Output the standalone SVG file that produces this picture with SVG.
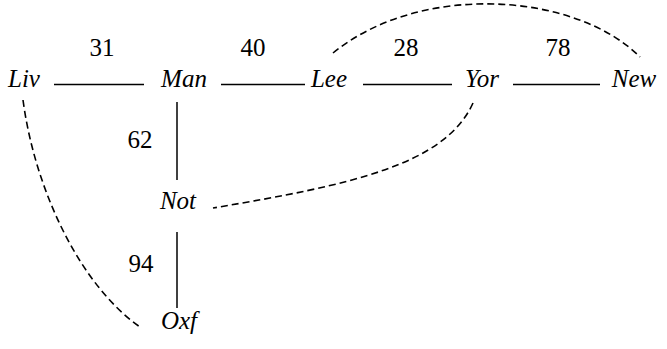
<svg xmlns="http://www.w3.org/2000/svg" width="667" height="349" viewBox="0 0 667 349">
<style>
text{font-family:'Liberation Serif','Times New Roman',serif;font-size:25px;fill:#000;text-anchor:middle}
.n{font-style:italic}
.e{stroke:#000;stroke-width:1.5;fill:none}
.d{stroke:#000;stroke-width:1.6;fill:none;stroke-dasharray:7 4}
</style>
<rect width="667" height="349" fill="#fff"/>
<g id="connectors">
<line class="e" x1="54" y1="84.5" x2="144" y2="84.5"/>
<line class="e" x1="221" y1="84.5" x2="305" y2="84.5"/>
<line class="e" x1="363" y1="84.5" x2="452" y2="84.5"/>
<line class="e" x1="513" y1="84.5" x2="600" y2="84.5"/>
<line class="e" x1="177" y1="102" x2="177" y2="180"/>
<line class="e" x1="177" y1="232" x2="177" y2="308"/>
<path class="d" d="M333 53 C420 -18 575 -8 640 57"/>
<path class="d" d="M473 103 C445 165 350 185 213 208"/>
<path class="d" d="M23 100 C35 190 80 285 140 327"/>
<text x="102" y="56">31</text>
<text x="253" y="56">40</text>
<text x="406" y="56">28</text>
<text x="558" y="56">78</text>
<text x="140" y="148">62</text>
<text x="141" y="272">94</text>
</g>
<g id="Liv"><text class="n" x="24" y="87">Liv</text></g>
<g id="Man"><text class="n" x="184" y="87">Man</text></g>
<g id="Lee"><text class="n" x="329" y="87">Lee</text></g>
<g id="Yor"><text class="n" x="482" y="87">Yor</text></g>
<g id="New"><text class="n" x="634" y="87">New</text></g>
<g id="Not"><text class="n" x="178" y="209">Not</text></g>
<g id="Oxf"><text class="n" x="179" y="329">Oxf</text></g>
</svg>
